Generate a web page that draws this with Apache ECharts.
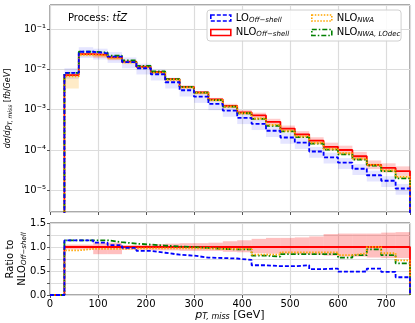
<!DOCTYPE html>
<html>
<head>
<meta charset="utf-8">
<script src="https://cdn.jsdelivr.net/npm/echarts@6/dist/echarts.min.js"></script>
<style>
  html, body { margin: 0; padding: 0; background: #fff; }
  #chart { width: 415px; height: 323px; }
</style>
</head>
<body>
<div id="chart"></div>
<script>
  // lower bin edges in GeV, last bin closes at binEnd
  var binLow = [30, 60, 90, 120, 150, 180, 210, 240, 270, 300, 330, 360,
    390, 420, 450, 480, 510, 540, 570, 600, 630, 660, 690, 720]
  var binEnd = 750

  // NLO off-shell  dsigma/dpT,miss [fb/GeV]
  var nloOff = [0.0072, 0.024, 0.023, 0.0199, 0.0155, 0.0116, 0.0086, 0.0057,
    0.0037, 0.0027, 0.0018, 0.00125, 0.00086, 0.00072, 0.00050, 0.00034,
    0.000245, 0.00017, 0.00012, 0.0001, 0.00007, 0.000043, 0.000036, 0.00003]
  // scale band of NLO off-shell, relative
  var nloOffBandLo = [0.95, 0.95, 0.85, 0.85, 0.94, 0.94, 0.93, 0.93, 0.92, 0.92, 0.92, 0.90,
    0.89, 0.87, 0.86, 0.86, 0.85, 0.84, 0.82, 0.80, 0.80, 0.78, 0.77, 0.77]
  var nloOffBandHi = [1.05, 1.05, 1.09, 1.09, 1.04, 1.04, 1.06, 1.07, 1.08, 1.08, 1.09, 1.12,
    1.14, 1.17, 1.19, 1.19, 1.20, 1.22, 1.27, 1.28, 1.28, 1.28, 1.30, 1.31]

  // ratios to NLO off-shell
  var ratioLO = [1.14, 1.14, 1.09, 1.04, 0.98, 0.92, 0.88, 0.84, 0.82, 0.78, 0.77, 0.76,
    0.73, 0.62, 0.60, 0.60, 0.62, 0.54, 0.55, 0.485, 0.49, 0.55, 0.48, 0.37]
  var ratioNWA = [0.93, 0.96, 0.96, 0.96, 0.97, 0.97, 0.97, 0.97, 0.97, 0.97, 0.96, 0.96,
    0.96, 0.84, 0.84, 0.89, 0.89, 0.89, 0.89, 0.83, 0.87, 1.00, 0.87, 0.72]
  var ratioLOdec = [1.14, 1.14, 1.14, 1.10, 1.07, 1.05, 1.03, 1.01, 1.00, 0.98, 0.96, 0.95,
    0.95, 0.82, 0.80, 0.85, 0.85, 0.85, 0.85, 0.78, 0.83, 0.95, 0.83, 0.66]

  // scale bands of LO and NLO NWA, relative
  var loBandLo = [0.70, 0.70, 0.70, 0.70, 0.70, 0.70, 0.70, 0.70, 0.70, 0.70, 0.70, 0.70,
    0.70, 0.70, 0.70, 0.70, 0.70, 0.70, 0.70, 0.70, 0.70, 0.70, 0.70, 0.70]
  var loBandHi = [1.30, 1.30, 1.30, 1.30, 1.30, 1.30, 1.30, 1.30, 1.30, 1.30, 1.30, 1.30,
    1.30, 1.30, 1.30, 1.30, 1.30, 1.30, 1.30, 1.30, 1.30, 1.30, 1.30, 1.30]
  var nwaBandLo = [0.50, 0.90, 0.90, 0.90, 0.90, 0.90, 0.90, 0.90, 0.90, 0.90, 0.90, 0.90,
    0.90, 0.90, 0.90, 0.90, 0.90, 0.90, 0.90, 0.90, 0.90, 0.90, 0.90, 0.90]
  var nwaBandHi = [1.05, 1.08, 1.08, 1.08, 1.08, 1.08, 1.08, 1.08, 1.08, 1.08, 1.08, 1.08,
    1.08, 1.08, 1.08, 1.08, 1.08, 1.08, 1.08, 1.08, 1.08, 1.08, 1.08, 1.08]

  var names = ['LO Off-shell', 'NLO Off-shell', 'NLO NWA', 'NLO NWA, LOdec']
  var colors = { lo: '#0000ff', nlo: '#ff0000', nwa: '#ffa500', dec: '#008000' }

  function times (a, b) {
    return a.map(function (v, i) { return v * b[i] })
  }
  var lo = times(nloOff, ratioLO)
  var nwa = times(nloOff, ratioNWA)
  var dec = times(nloOff, ratioLOdec)
  var ones = nloOff.map(function () { return 1 })

  // histogram outline for step:'end'
  function steps (vals, floor) {
    var d = [[0, floor]]
    vals.forEach(function (v, i) { d.push([binLow[i], v]) })
    d.push([binEnd, floor])
    return d
  }
  function band (vals, rlo, rhi) {
    return vals.map(function (v, i) {
      var x1 = i + 1 < binLow.length ? binLow[i + 1] : binEnd
      return [binLow[i], x1, v * rlo[i], v * rhi[i]]
    })
  }
  function bandSeries (data, color, gi) {
    return {
      type: 'custom',
      xAxisIndex: gi,
      yAxisIndex: gi,
      silent: true,
      z: 1,
      encode: { x: [0, 1], y: [2, 3] },
      data: data,
      renderItem: function (params, api) {
        var p0 = api.coord([api.value(0), api.value(3)])
        var p1 = api.coord([api.value(1), api.value(2)])
        var shape = echarts.graphic.clipRectByRect({
          x: p0[0], y: p0[1], width: p1[0] - p0[0], height: p1[1] - p0[1]
        }, params.coordSys)
        return shape && { type: 'rect', shape: shape, style: { fill: color } }
      }
    }
  }
  function lineSeries (name, data, color, type, gi, z) {
    return {
      name: name,
      type: 'line',
      step: 'end',
      xAxisIndex: gi,
      yAxisIndex: gi,
      showSymbol: false,
      symbol: 'none',
      z: z,
      lineStyle: { color: color, width: 1.8, type: type },
      itemStyle: { color: color },
      data: data
    }
  }

  var sup = { '-': '\u207b', '0': '\u2070', '1': '\u00b9', '2': '\u00b2', '3': '\u00b3', '4': '\u2074', '5': '\u2075', '6': '\u2076', '7': '\u2077', '8': '\u2078', '9': '\u2079' }
  function pow10 (v) {
    var e = String(Math.round(Math.log10(v)))
    return '10' + e.split('').map(function (c) { return sup[c] }).join('')
  }

  var gridColor = '#dcdcdc'
  var frame = '#555'
  var font = 'DejaVu Sans'
  var sub = { fontFamily: font, fontSize: 7, fontStyle: 'italic', color: '#000', verticalAlign: 'bottom', padding: [4, 0, 0, 0] }
  var legendRich = { sub: sub, n: { fontFamily: font, fontSize: 10, color: '#000' } }
  function legendLabel (name) {
    var p = name.split(' ')
    return '{n|' + p[0] + '}{sub|' + p.slice(1).join(' ').replace('-', '\u2212') + '}'
  }
  function legendItem (name, color, dash) {
    return {
      name: name,
      icon: 'rect',
      itemStyle: { color: 'transparent', borderColor: color, borderWidth: 1.6, borderType: dash }
    }
  }

  var xBase = {
    type: 'value', min: 0, max: 750, interval: 100,
    axisLine: { show: false },
    axisTick: { show: true, length: 3, lineStyle: { color: frame } },
    splitLine: { show: true, lineStyle: { color: gridColor, width: 1.2 } }
  }

  var chart = echarts.init(document.getElementById('chart'), null, { renderer: 'canvas' })
  chart.setOption({
    animation: false,
    backgroundColor: '#fff',
    textStyle: { fontFamily: font },
    grid: [
      { left: 50, right: 5, top: 5, height: 207, show: true, borderColor: frame, borderWidth: 1, outerBoundsMode: 'none', containLabel: false },
      { left: 50, right: 5, top: 223, height: 72, show: true, borderColor: frame, borderWidth: 1, outerBoundsMode: 'none', containLabel: false }
    ],
    graphic: [{
      type: 'text', left: 68, top: 13, z: 10,
      style: {
        text: 'Process: {it|tt\u0304Z}',
        font: '10px "DejaVu Sans"',
        fill: '#000',
        rich: { it: { fontFamily: font, fontSize: 10, fontStyle: 'italic', fill: '#000' } }
      }
    }, {
      // ratio panel y title
      type: 'text', x: 16, y: 259, rotation: Math.PI / 2, z: 10,
      style: {
        text: 'Ratio to\nNLO{sub|Off\u2212shell}',
        font: '10px "DejaVu Sans"',
        fill: '#000',
        align: 'center',
        verticalAlign: 'middle',
        lineHeight: 12,
        rich: { sub: { fontFamily: font, fontSize: 7, fontStyle: 'italic', fill: '#000', verticalAlign: 'bottom' } }
      }
    }],
    legend: [{
      orient: 'vertical', left: 207, top: 10,
      padding: [3, 112, 3, 3], itemGap: 4, itemWidth: 20, itemHeight: 6,
      backgroundColor: 'rgba(255,255,255,0.85)', borderColor: '#d0d0d0', borderWidth: 1, borderRadius: 3,
      data: [legendItem(names[0], colors.lo, [4, 2]), legendItem(names[1], colors.nlo, 'solid')],
      formatter: legendLabel,
      textStyle: { rich: legendRich, padding: [0, 0, 0, 0] }
    }, {
      orient: 'vertical', left: 308, top: 10,
      padding: [3, 3, 3, 3], itemGap: 4, itemWidth: 20, itemHeight: 6,
      data: [legendItem(names[2], colors.nwa, [1.5, 1.5]), legendItem(names[3], colors.dec, [5, 2, 1.5, 2])],
      formatter: legendLabel,
      textStyle: { rich: legendRich }
    }],
    xAxis: [
      Object.assign({}, xBase, { gridIndex: 0, axisLabel: { show: false } }),
      Object.assign({}, xBase, {
        gridIndex: 1,
        axisLabel: { fontSize: 10, color: '#000', margin: 4, showMaxLabel: false },
        name: '{it|p}{sub|T, miss} [GeV]',
        nameLocation: 'middle',
        nameGap: 13,
        nameTextStyle: {
          fontSize: 11, color: '#000',
          rich: { it: { fontSize: 11, fontStyle: 'italic', fontFamily: font }, sub: Object.assign({}, sub, { fontSize: 8 }) }
        }
      })
    ],
    yAxis: [{
      gridIndex: 0, type: 'log', logBase: 10, min: 2.9e-6, max: 0.395,
      axisLine: { show: false },
      axisTick: { show: true, length: 3, lineStyle: { color: frame } },
      axisLabel: { fontSize: 10, color: '#000', margin: 4, showMinLabel: false, showMaxLabel: false, formatter: pow10 },
      splitLine: { show: true, lineStyle: { color: gridColor, width: 1.2 } },
      name: '{it|d\u03c3}/{it|dp}{sub|T, miss} [{it|fb}/{it|GeV}]',
      nameLocation: 'middle', nameGap: 30,
      nameTextStyle: {
        fontSize: 8, color: '#000',
        rich: { it: { fontSize: 8, fontStyle: 'italic', fontFamily: font }, sub: Object.assign({}, sub, { fontSize: 6 }) }
      }
    }, {
      gridIndex: 1, type: 'value', min: 0, max: 1.5, interval: 0.25,
      axisLine: { show: false },
      axisTick: { show: true, length: 3, lineStyle: { color: frame } },
      axisLabel: {
        fontSize: 10, color: '#000', margin: 4,
        formatter: function (v) { return Math.abs(v * 2 - Math.round(v * 2)) < 1e-6 ? v.toFixed(1) : '' }
      },
      splitLine: { show: true, lineStyle: { color: gridColor, width: 1.2 } }
    }],
    series: [
      bandSeries(band(lo, loBandLo, loBandHi), 'rgba(0,0,255,0.1)', 0),
      bandSeries(band(nloOff, nloOffBandLo, nloOffBandHi), 'rgba(255,0,0,0.2)', 0),
      bandSeries(band(nwa, nwaBandLo, nwaBandHi), 'rgba(255,165,0,0.22)', 0),
      bandSeries(band(ones, nloOffBandLo, nloOffBandHi), 'rgba(255,0,0,0.25)', 1),
      lineSeries(names[1], steps(nloOff, 1e-9), colors.nlo, 'solid', 0, 2),
      lineSeries(names[3], steps(dec, 1e-9), colors.dec, [5, 2, 1.5, 2], 0, 3),
      lineSeries(names[2], steps(nwa, 1e-9), colors.nwa, [1.5, 1.5], 0, 4),
      lineSeries(names[0], steps(lo, 1e-9), colors.lo, [4, 2], 0, 5),
      lineSeries(names[1], steps(ones, 0), colors.nlo, 'solid', 1, 2),
      lineSeries(names[3], steps(ratioLOdec, 0), colors.dec, [5, 2, 1.5, 2], 1, 3),
      lineSeries(names[2], steps(ratioNWA, 0), colors.nwa, [1.5, 1.5], 1, 4),
      lineSeries(names[0], steps(ratioLO, 0), colors.lo, [4, 2], 1, 5)
    ]
  })
</script>
</body>
</html>
